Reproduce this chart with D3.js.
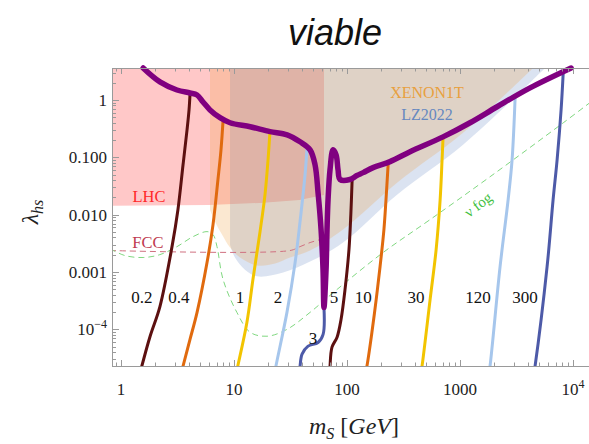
<!DOCTYPE html>
<html><head><meta charset="utf-8">
<script src="https://cdn.jsdelivr.net/npm/d3@7"></script>
<style>body{margin:0;background:#fff;} svg{display:block;}</style>
</head><body>
<svg id="c" width="589" height="444"></svg>
<script>
// ---- data (mS in GeV, lambda_hs) ----
const xDomain = [0.8326, 17300];
const yDomain = [2.3e-5, 3.6];
const xTicks = [1, 10, 100, 1000, 10000];
const xTickLabels = [["1"], ["10"], ["100"], ["1000"], ["10", "4"]];
const yTicks = [1e-4, 1e-3, 1e-2, 0.1, 1];
const yTickLabels = [["10", "\u22124"], ["0.001"], ["0.010"], ["0.100"], ["1"]];

const lhcRegion = [[0.8,5],[62.5,5],[62.5,0.022],[55,0.021],[38,0.018],[17,0.016],[6,0.0148],[0.8,0.0143]];
const xenonRegion = [[6.13,5],[6.13,0.0122],[6.79,0.00755],[7.83,0.00449],[9.22,0.00267],[11.3,0.00179],[16,0.0013],[23.1,0.00141],[31.3,0.00179],[47.1,0.00237],[92.2,0.0055],[277,0.036],[1063,0.267],[4430,3.6],[5100,5]];
const lzRegion = [[9.22,5],[9.22,0.003],[10.2,0.00179],[12.5,0.0011],[16,0.00084],[27.2,0.00098],[47.1,0.00152],[92.2,0.00326],[277,0.0223],[1063,0.165],[5650,3.6],[6500,5]];
const fccLine = [[0.8,0.00237],[31.3,0.00237],[38.4,0.00277],[47.1,0.00326],[57.7,0.00367]];
const nuFog = [[0.8,0.00255],[1.08,0.00194],[1.57,0.00179],[2.21,0.00201],[3.13,0.00277],[4.34,0.00414],[5.77,0.00506],[6.52,0.0045],[7.07,0.00277],[8.0,7.4e-4],[10.6,1.98e-4],[13.9,8.9e-5],[19.6,7.6e-5],[29.4,1e-4],[47.1,1.98e-4],[81.6,4.97e-4],[208,0.00218],[543,0.0082],[1842,0.0458],[8170,0.398],[17300,1.22]];
const viable = [[1.57,3.6],[2.21,2.06],[3.13,1.49],[4.08,1.32],[4.71,1.22],[5.32,0.92],[6.13,0.67],[7.52,0.49],[9.22,0.40],[13.9,0.34],[20.8,0.28],[29.5,0.246],[38.4,0.186],[47.1,0.135],[52.1,0.074],[55.4,0.024],[58.9,0.0055],[61.3,0.0011],[62.5,2.4e-4],[65.2,0.0011],[66.5,0.0055],[67.9,0.018],[70.7,0.061],[75.2,0.135],[80.0,0.110],[83.2,0.061],[86.7,0.041],[106,0.041],[122,0.048],[139,0.054],[170,0.066],[240,0.084],[361,0.125],[707,0.227],[1225,0.40],[2125,0.76],[4160,1.62],[9600,3.6]];

const contourLabels = ["0.2","0.4","1","2","3","5","10","30","120","300"];
const contour02 = [[1.45,1.5e-5],[1.53,2.3e-5],[1.81,7.6e-5],[2.21,2.5e-4],[2.83,0.0028],[3.19,0.0122],[3.54,0.074],[3.84,0.30],[4.0,0.67],[4.08,1.25]];
const contour04 = [[3.35,1.5e-5],[3.54,2.3e-5],[4.08,6.7e-5],[4.71,1.98e-4],[5.77,0.00146],[6.52,0.0067],[7.21,0.041],[7.67,0.135],[8.0,0.44]];
const contour1 = [[10.3,1.5e-5],[10.8,2.3e-5],[13.0,1.32e-4],[14.7,7.4e-4],[17.0,0.0051],[18.8,0.0223],[20.0,0.0905],[20.8,0.28]];
const contour2 = [[22.6,1.5e-5],[23.5,2.3e-5],[29.4,1.98e-4],[34.7,0.00146],[38.4,0.0076],[42.5,0.0496],[44.3,0.15]];
const contour3 = [[37.5,1.5e-5],[38.4,2.3e-5],[40.0,3.7e-5],[45.2,5.1e-5],[55.4,5.9e-5],[61.4,8.2e-5],[62.5,2.4e-4]];
const contour5 = [[70.0,1.5e-5],[70.7,2.3e-5],[73.6,4.9e-5],[81.6,7.3e-5],[88.5,1.49e-4],[96,4.97e-4],[104,0.00246],[108,0.01],[111,0.042]];
const contour10 = [[143,1.5e-5],[150,2.3e-5],[166,8.9e-5],[181,3.3e-4],[196,0.00125],[212,0.0055],[221,0.018],[231,0.075]];
const contour30 = [[445,1.5e-5],[461,2.3e-5],[543,3.3e-4],[614,0.00246],[666,0.018],[693,0.0905],[707,0.225]];
const contour120 = [[1780,1.5e-5],[1842,2.3e-5],[2260,0.00125],[2660,0.018],[2885,0.0905],[3070,1.1]];
const contour300 = [[4450,1.5e-5],[4610,2.3e-5],[5890,0.00125],[6650,0.018],[7220,0.0905],[7830,0.67],[8170,2.9]];
const contours = [contour02, contour04, contour1, contour2, contour3, contour5, contour10, contour30, contour120, contour300];
const contourLabelPos = [[1.53,2.83e-4],[3.26,2.83e-4],[11.3,2.83e-4],[24.5,2.83e-4],[50.0,5.48e-5],[76.7,2.83e-4],[139,2.83e-4],[408,2.83e-4],[1443,2.83e-4],[3760,2.83e-4]];

// ---- layout / style ----
const W = 589, H = 444, L = 112, R = 600, T = 68, B = 366;
const contourColors = ["#5c1010","#e06a0e","#f2c400","#a6c6ec","#4d5aa8"];
const serif = "'Liberation Serif','DejaVu Serif',serif";
const axisColor = "#9a9a9a";

const svg = d3.select("#c");
const x = d3.scaleLog().domain(xDomain).range([L, R]);
const y = d3.scaleLog().domain(yDomain).range([B, T]);

svg.append("defs").append("clipPath").attr("id","clip")
  .append("rect").attr("x",L).attr("y",T).attr("width",W-L).attr("height",B-T);
const plot = svg.append("g").attr("clip-path","url(#clip)");
const lin = d3.line().x(d=>x(d[0])).y(d=>y(d[1]));
const smooth = d3.line().x(d=>x(d[0])).y(d=>y(d[1])).curve(d3.curveCatmullRom.alpha(0.5));

function regionPath(pts){
  const a = pts[0], b = pts[pts.length-1];
  return `M${x(a[0])},${y(a[1])}` + smooth(pts.slice(1,-1)).replace(/^M/,"L") + `L${x(b[0])},${y(b[1])}Z`;
}

plot.append("path").attr("d", lin(lhcRegion)+"Z").attr("fill","#ffc8c8");
plot.append("path").attr("d", regionPath(lzRegion)).attr("fill","#6f8fc8").attr("fill-opacity",0.25);
plot.append("path").attr("d", regionPath(xenonRegion)).attr("fill","#eea040").attr("fill-opacity",0.24);

plot.append("path").attr("d", smooth(fccLine)).attr("fill","none")
  .attr("stroke","#d07080").attr("stroke-width",1).attr("stroke-dasharray","6,4");
plot.append("path").attr("d", smooth(nuFog)).attr("fill","none")
  .attr("stroke","#80d880").attr("stroke-width",1).attr("stroke-dasharray","6,4");

contours.forEach((c,i)=>{
  plot.append("path").attr("d", smooth(c)).attr("fill","none")
    .attr("stroke", contourColors[i%5]).attr("stroke-width",3).attr("stroke-linecap","round");
});

svg.append("path").attr("d", smooth(viable)).attr("fill","none")
  .attr("stroke","#800080").attr("stroke-width",5.5)
  .attr("stroke-linecap","round").attr("stroke-linejoin","round");

contourLabels.forEach((t,i)=>{
  svg.append("text").attr("x", x(contourLabelPos[i][0])).attr("y", y(contourLabelPos[i][1]))
    .attr("text-anchor","middle").attr("font-family",serif).attr("font-size",17).attr("fill","#111").text(t);
});

function lab(t, px, py, col, size){
  return svg.append("text").attr("x",x(px)).attr("y",y(py)).attr("text-anchor","middle")
    .attr("font-family",serif).attr("font-size",size).attr("fill",col).text(t);
}
lab("LHC", 1.77, 0.0168, "#ff2a2a", 16.5);
lab("FCC", 1.73, 0.00267, "#c03a50", 16.5);
lab("XENON1T", 510, 1.08, "#e8a040", 16);
lab("LZ2022", 510, 0.449, "#6688c0", 16);
svg.append("text").attr("transform", `translate(${x(1443)},${y(0.0149)}) rotate(-37)`)
  .attr("text-anchor","middle").attr("dominant-baseline","central")
  .attr("font-family",serif).attr("font-size",15).attr("fill","#40c040").text("\u03bd fog");

// ---- axes ----
const ax = svg.append("g").attr("stroke",axisColor).attr("stroke-width",1);
ax.append("line").attr("x1",L).attr("x2",W).attr("y1",B+0.5).attr("y2",B+0.5);
ax.append("line").attr("x1",L).attr("x2",W).attr("y1",T+0.5).attr("y2",T+0.5);
ax.append("line").attr("x1",L+0.5).attr("x2",L+0.5).attr("y1",T).attr("y2",B);

function logMinor(dom){
  const out=[];
  for(let e=Math.floor(Math.log10(dom[0]))-1;e<=Math.ceil(Math.log10(dom[1]));e++){
    for(let m=1;m<10;m++){const v=m*Math.pow(10,e); if(v>=dom[0]&&v<=dom[1]) out.push([v,m===1]);}
  }
  return out;
}
logMinor(xDomain).forEach(([v,maj])=>{
  const px=Math.round(x(v))+0.5; if(px>W) return;
  const len=maj?6:3.5;
  ax.append("line").attr("x1",px).attr("x2",px).attr("y1",B).attr("y2",B-len);
  ax.append("line").attr("x1",px).attr("x2",px).attr("y1",T).attr("y2",T+len);
});
logMinor(yDomain).forEach(([v,maj])=>{
  const py=Math.round(y(v))+0.5;
  const len=maj?7:4;
  ax.append("line").attr("x1",L).attr("x2",L+len).attr("y1",py).attr("y2",py);
});

xTicks.forEach((v,i)=>{
  const t=svg.append("text").attr("x",x(v)).attr("y",395).attr("text-anchor","middle")
    .attr("font-family",serif).attr("font-size",17).attr("fill","#222");
  t.append("tspan").text(xTickLabels[i][0]);
  if(xTickLabels[i][1]) t.append("tspan").attr("dy",-7).attr("font-size",12).text(xTickLabels[i][1]);
});
yTicks.forEach((v,i)=>{
  const t=svg.append("text").attr("x",107).attr("y",y(v)+6).attr("text-anchor","end")
    .attr("font-family",serif).attr("font-size",17).attr("fill","#222");
  t.append("tspan").text(yTickLabels[i][0]);
  if(yTickLabels[i][1]) t.append("tspan").attr("dy",-7).attr("font-size",12).text(yTickLabels[i][1]);
});

const xt = svg.append("text").attr("x",354).attr("y",434).attr("text-anchor","middle")
  .attr("font-family",serif).attr("font-size",24).attr("fill","#222");
xt.append("tspan").attr("font-style","italic").text("m");
xt.append("tspan").attr("font-style","italic").attr("font-size",16).attr("dy",5).text("S");
xt.append("tspan").attr("dy",-5).text(" [");
xt.append("tspan").attr("font-style","italic").text("GeV");
xt.append("tspan").text("]");

const yt = svg.append("text").attr("transform","translate(38,212) rotate(-90)").attr("text-anchor","middle")
  .attr("font-family",serif).attr("font-size",24).attr("fill","#222");
yt.append("tspan").attr("font-style","italic").text("\u03bb");
yt.append("tspan").attr("font-style","italic").attr("font-size",16).attr("dy",5).text("hs");

svg.append("text").attr("x",335).attr("y",45).attr("text-anchor","middle")
  .attr("font-family","'Liberation Sans',Arial,sans-serif").attr("font-style","italic")
  .attr("font-size",36).attr("fill","#111").text("viable");
</script>
</body></html>
